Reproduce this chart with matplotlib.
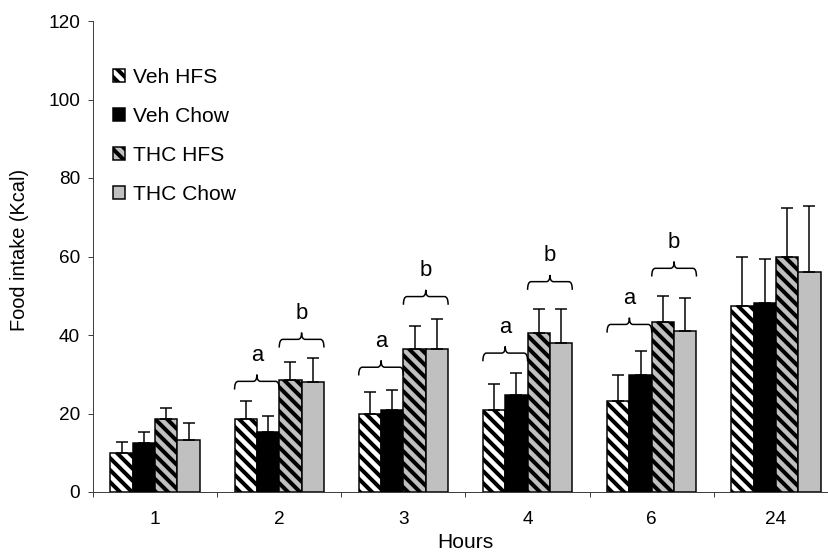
import matplotlib
matplotlib.use("Agg")
import matplotlib.pyplot as plt
from matplotlib.path import Path
from matplotlib.patches import PathPatch
import numpy as np

plt.rcParams['font.family'] = ['Liberation Sans', 'DejaVu Sans']
plt.rcParams['hatch.color'] = 'black'
plt.rcParams['hatch.linewidth'] = 4

hours = ['1', '2', '3', '4', '6', '24']
series = ['Veh HFS', 'Veh Chow', 'THC HFS', 'THC Chow']

veh_hfs = [9.9, 18.5, 20.0, 20.9, 23.3, 47.5]
veh_chow = [12.4, 15.3, 20.9, 24.7, 29.9, 48.1]
thc_hfs = [18.5, 28.5, 36.5, 40.5, 43.2, 59.8]
thc_chow = [13.2, 28.1, 36.5, 38.0, 40.9, 56.0]

veh_hfs_err = [2.9, 4.8, 5.6, 6.5, 6.6, 12.5]
veh_chow_err = [2.8, 4.1, 5.2, 5.7, 6.1, 11.2]
thc_hfs_err = [2.8, 4.7, 5.7, 6.1, 6.8, 12.5]
thc_chow_err = [4.3, 6.1, 7.7, 8.6, 8.5, 16.8]

# brace bottoms (None = no brace) for Veh pair ("a") and THC pair ("b")
brace_a = [None, 26.1, 29.7, 33.3, 40.6, None]
brace_b = [None, 36.8, 47.7, 51.5, 54.9, None]

values = [veh_hfs, veh_chow, thc_hfs, thc_chow]
errors = [veh_hfs_err, veh_chow_err, thc_hfs_err, thc_chow_err]
colors = ['white', 'black', '#C0C0C0', '#C0C0C0']
hatches = ['\\\\', None, '\\\\', None]

W, H = 828, 552
fig = plt.figure(figsize=(W / 72, H / 72), dpi=72)
ax = fig.add_axes([93 / W, (H - 492) / H, 745 / W, 471 / H])

x = np.arange(len(hours))
bw = 0.18
offsets = [-1.5 * bw, -0.5 * bw, 0.5 * bw, 1.5 * bw]

for vals, errs, c, h, off, name in zip(values, errors, colors, hatches, offsets, series):
    ax.bar(x + off, vals, bw, color=c, edgecolor='black', linewidth=1.5,
           hatch=h, label=name, zorder=2)
    ax.errorbar(x + off, vals, yerr=[np.zeros(len(errs)), errs], fmt='none',
                ecolor='black', elinewidth=1.5, capsize=6, capthick=1.5, zorder=3)


def brace(x0, x1, y, h):
    xm = (x0 + x1) / 2
    r = (x1 - x0) * 0.08
    hm = y + h * 0.55
    verts = [(x0, y), (x0, hm), (x0 + r, hm),
             (xm - r, hm), (xm, hm), (xm, y + h),
             (xm, hm), (xm + r, hm),
             (x1 - r, hm), (x1, hm), (x1, y)]
    codes = [Path.MOVETO, Path.CURVE3, Path.CURVE3,
             Path.LINETO, Path.CURVE3, Path.CURVE3,
             Path.CURVE3, Path.CURVE3,
             Path.LINETO, Path.CURVE3, Path.CURVE3]
    ax.add_patch(PathPatch(Path(verts, codes), fill=False, lw=1.5,
                           edgecolor='black', zorder=4))


for i in range(len(hours)):
    for yb, letter, o0, o1 in [(brace_a[i], 'a', offsets[0], offsets[1]),
                               (brace_b[i], 'b', offsets[2], offsets[3])]:
        if yb is None:
            continue
        x0 = x[i] + o0 - bw / 2
        x1 = x[i] + o1 + bw / 2
        brace(x0, x1, yb, 3.8)
        ax.text((x0 + x1) / 2, yb + 7.3, letter, ha='center', va='baseline',
                fontsize=22)

ax.set_xlim(-0.5, 5.5)
ax.set_ylim(0, 120)
ax.set_yticks(np.arange(0, 121, 20))
ax.set_xticks(x)
ax.set_xticklabels(hours)
ax.set_xticks(np.arange(-0.5, 6, 1), minor=True)
ax.tick_params(axis='x', which='major', length=0, pad=19, labelsize=19)
ax.tick_params(axis='x', which='minor', length=5, direction='out', width=1, color='#404040')
ax.tick_params(axis='y', length=5, width=1, pad=8, labelsize=19, color='#404040')

for s in ['top', 'right']:
    ax.spines[s].set_visible(False)
for s in ['left', 'bottom']:
    ax.spines[s].set_color('#404040')
    ax.spines[s].set_linewidth(1)

fig.text(20 / W, 1 - 250 / H, 'Food intake (Kcal)', rotation=90,
         ha='center', va='center', fontsize=20)
fig.text(465 / W, 1 - 543 / H, 'Hours', ha='center', va='center', fontsize=21)

ax.legend(loc='upper left', bbox_to_anchor=(113 / W, 1 - 68 / H),
          bbox_transform=fig.transFigure, frameon=False, fontsize=21,
          handlelength=0.57, handleheight=0.57, handletextpad=0.4,
          labelspacing=0.95, borderpad=0, borderaxespad=0)

fig.savefig('out.png', dpi=72)
